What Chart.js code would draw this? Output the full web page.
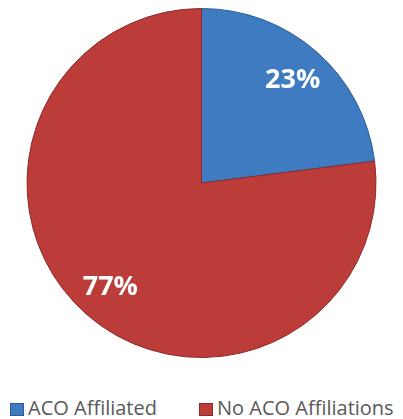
<!DOCTYPE html>
<html>
<head>
<meta charset="utf-8">
<script src="https://cdn.jsdelivr.net/npm/chart.js@4.4.1/dist/chart.umd.min.js"></script>
<style>
  body { margin: 0; background: #fff; }
  #wrap { position: relative; width: 403px; height: 419px; }
  #box { position: absolute; left: 0; top: 0; width: 403px; height: 372px; }
  #legend { position: absolute; left: 0; top: 397px; width: 403px; height: 22px;
            font-family: "Open Sans", sans-serif; font-size: 20px; color: #595959; }
  .item { position: absolute; top: 0; line-height: 22px; white-space: nowrap; }
  .sw { display: inline-block; width: 14px; height: 13px; margin-right: 4px; vertical-align: -1px; box-sizing: border-box; }
</style>
</head>
<body>
<div id="wrap">
  <div id="box"><canvas id="pie"></canvas></div>
  <div id="legend"></div>
</div>
<script>
var labels = ["ACO Affiliated", "No ACO Affiliations"];
var values = [23, 77];
var colors = ["#3e7bc1", "#bb3c39"];
var edges = ["#2c5b93", "#8c2a28"];
var legendLeft = [10, 199];

// simple legend under the pie
var lg = document.getElementById("legend");
for (var i = 0; i < labels.length; i++) {
    var d = document.createElement("div");
    d.className = "item";
    d.style.left = legendLeft[i] + "px";
    d.innerHTML = '<span class="sw" style="background:' + colors[i] + ';border:1px solid ' + edges[i] + '"></span>' + labels[i];
    lg.appendChild(d);
}

var pctLabels = {
    id: "pctLabels",
    afterDatasetsDraw: function (chart) {
        var ctx = chart.ctx;
        var meta = chart.getDatasetMeta(0);
        ctx.save();
        ctx.font = "bold 27px 'Open Sans', sans-serif";
        ctx.fillStyle = "#ffffff";
        ctx.textAlign = "center";
        ctx.textBaseline = "middle";
        meta.data.forEach(function (arc, i) {
            var mid = (arc.startAngle + arc.endAngle) / 2;
            var r = arc.outerRadius * 0.79;
            ctx.fillText(values[i] + "%", arc.x + Math.cos(mid) * r, arc.y + Math.sin(mid) * r + 1);
        });
        ctx.restore();
    }
};

var ctx = document.getElementById("pie").getContext("2d");
var myChart = new Chart(ctx, {
    type: "pie",
    data: {
        labels: labels,
        datasets: [{
            data: values,
            backgroundColor: colors,
            borderColor: edges,
            borderWidth: 1
        }]
    },
    options: {
        responsive: true,
        maintainAspectRatio: false,
        animation: false,
        layout: { padding: { top: 8, bottom: 14 } },
        plugins: {
            legend: { display: false },
            tooltip: { enabled: false }
        }
    },
    plugins: [pctLabels]
});
</script>
</body>
</html>
